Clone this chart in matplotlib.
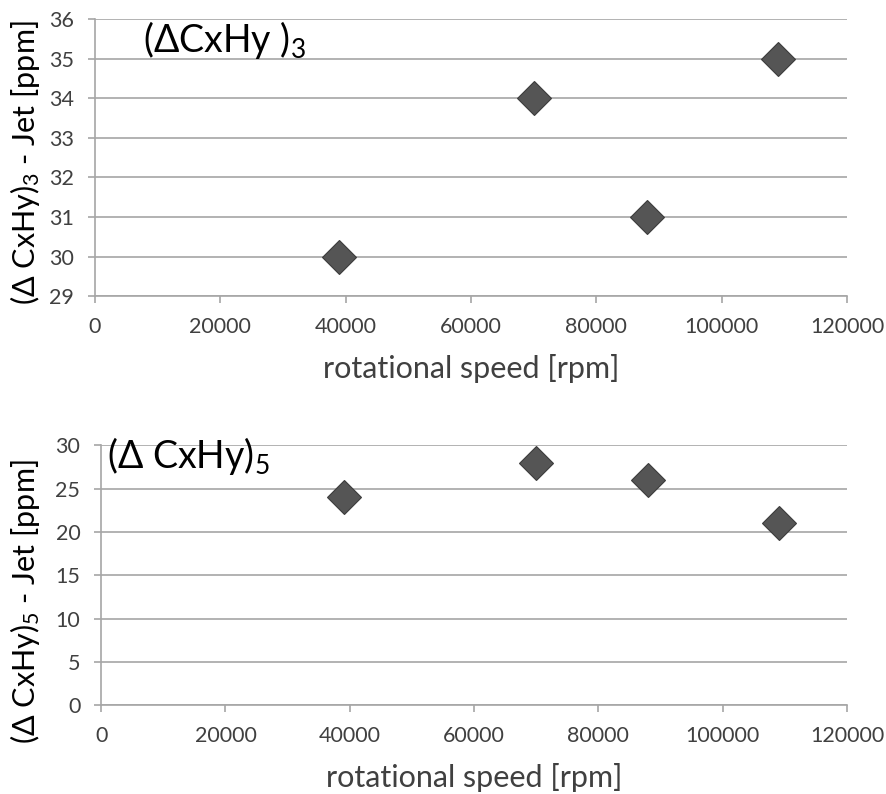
import matplotlib
matplotlib.use('Agg')
import matplotlib.pyplot as plt

# rotational speed [rpm] and measured differences [ppm]
speed = [39000, 70000, 88000, 109000]
cxhy3 = [30, 34, 31, 35]
cxhy5 = [24, 28, 26, 21]

xticks = [0, 20000, 40000, 60000, 80000, 100000, 120000]
yticks3 = [29, 30, 31, 32, 33, 34, 35, 36]
yticks5 = [0, 5, 10, 15, 20, 25, 30]

plt.rcParams['font.family'] = ['Lato', 'DejaVu Sans']
plt.rcParams['mathtext.fontset'] = 'custom'
plt.rcParams['mathtext.rm'] = 'Lato'
plt.rcParams['mathtext.it'] = 'Lato:italic'
grid_c = '#a6a6a6'
text_c = '#404040'

fig = plt.figure(figsize=(8.87, 7.94), dpi=100)
ax1 = fig.add_axes([0.107, 0.627, 0.848, 0.349])
ax2 = fig.add_axes([0.114, 0.112, 0.841, 0.327])


def style(ax, yticks):
    ax.set_xlim(0, 120000)
    ax.set_ylim(yticks[0], yticks[-1])
    ax.set_xticks(xticks)
    ax.set_yticks(yticks)
    for s in ['top', 'right']:
        ax.spines[s].set_visible(False)
    for s in ['left', 'bottom']:
        ax.spines[s].set_color(grid_c)
        ax.spines[s].set_linewidth(1.2)
    ax.yaxis.grid(True, color=grid_c, linewidth=1.2)
    ax.set_axisbelow(True)
    ax.tick_params(axis='both', colors=grid_c, labelcolor=text_c, labelsize=15.5,
                   length=5, width=1.2, direction='out')
    ax.tick_params(axis='x', pad=10)
    ax.tick_params(axis='y', pad=10)
    ax.set_xlabel('rotational speed [rpm]', fontsize=22, color=text_c, labelpad=12)


style(ax1, yticks3)
ax1.plot(speed, cxhy3, linestyle='none', marker='D', markersize=17,
         color='#555555', markeredgecolor='#3c3c3c', markeredgewidth=0.8,
         clip_on=False, zorder=3)
ax1.set_ylabel('(Δ CxHy)$_3$ - Jet [ppm]', fontsize=22, color='black')
ax1.yaxis.set_label_coords(-0.07, 0.48)
ax1.text(0.064, 1.0, '(ΔCxHy )$_3$', transform=ax1.transAxes, fontsize=27,
         color='black', va='top', ha='left')

style(ax2, yticks5)
ax2.plot(speed, cxhy5, linestyle='none', marker='D', markersize=17,
         color='#555555', markeredgecolor='#3c3c3c', markeredgewidth=0.8,
         clip_on=False, zorder=3)
ax2.set_ylabel('(Δ CxHy)$_5$ - Jet [ppm]', fontsize=22, color='black')
ax2.yaxis.set_label_coords(-0.079, 0.40)
ax2.text(0.008, 1.04, '(Δ CxHy)$_5$', transform=ax2.transAxes, fontsize=27,
         color='black', va='top', ha='left')

fig.savefig('out.png', dpi=100)
